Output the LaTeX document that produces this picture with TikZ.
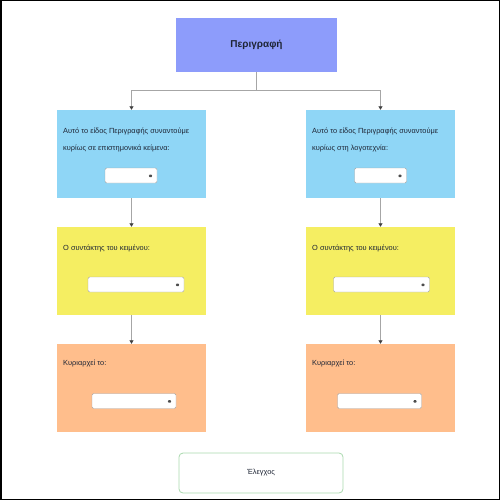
\documentclass[tikz,border=0pt]{standalone}
\usepackage{fontspec}
\setmainfont{Liberation Sans}
\usepackage{tikz}
\usetikzlibrary{arrows.meta, positioning, calc}

\definecolor{titleblue}{HTML}{8D9CFB}
\definecolor{skyblue}{HTML}{8FD6F6}
\definecolor{lemon}{HTML}{F5EE62}
\definecolor{peach}{HTML}{FFBE8C}
\definecolor{mint}{HTML}{A9D9AE}
\definecolor{ink}{HTML}{1E2535}

\begin{document}
\begin{tikzpicture}[x=1pt, y=-1pt,
        title/.style={rectangle, fill=titleblue, minimum width=161pt, minimum height=54pt, align=center, text=ink, font=\fontsize{10}{12}\selectfont\bfseries},
        panel/.style={rectangle, minimum width=149pt, minimum height=88pt},
        prompt/.style={anchor=north west, inner sep=0pt, align=left, text=ink, font=\fontsize{7.4}{17}\selectfont},
        dropdown/.style={rectangle, draw=black!35, fill=white, rounded corners=1.5pt, minimum height=15pt, inner sep=0pt,
            path picture={\fill[black!70] ([xshift=-9pt, yshift=-1.5pt]path picture bounding box.east) -- ++(5pt,0) -- ++(-2.5pt,3.5pt) -- cycle;}},
        button/.style={rectangle, draw=mint, thick, fill=white, rounded corners=4pt, minimum width=164pt, minimum height=40pt, font=\fontsize{7.4}{9}\selectfont, text=ink},
        conn/.style={draw=black!35, line width=1.1pt, -{Triangle[width=4pt, length=3.5pt, color=black!75]}}
    ]

        % frame
        \useasboundingbox (0,0) rectangle (500,500);
        \draw[line width=1.5pt] (0.75,0.75) rectangle (499.25,499.25);

        % Title
        \node[title] (title) at (256.5,45) {Περιγραφή};

        % Left column
        \node[panel, fill=skyblue] (kindL) at (131.5,154) {};
        \node[prompt] (kindLtxt) at (63,127.5) {Αυτό το είδος Περιγραφής συναντούμε\\κυρίως σε επιστημονικά κείμενα:};
        \node[dropdown, minimum width=52pt] (kindLdd) at (131,175.5) {};

        \node[panel, fill=lemon] (authL) at (131.5,271) {};
        \node[prompt] (authLtxt) at (63,245) {Ο συντάκτης του κειμένου:};
        \node[dropdown, minimum width=96pt] (authLdd) at (136,284.5) {};

        \node[panel, fill=peach] (ruleL) at (131.5,388) {};
        \node[prompt] (ruleLtxt) at (63,360) {Κυριαρχεί το:};
        \node[dropdown, minimum width=84pt] (ruleLdd) at (134,401) {};

        % Right column
        \node[panel, fill=skyblue] (kindR) at (380.5,154) {};
        \node[prompt] (kindRtxt) at (312,127.5) {Αυτό το είδος Περιγραφής συναντούμε\\κυρίως στη λογοτεχνία:};
        \node[dropdown, minimum width=52pt] (kindRdd) at (380.5,175.5) {};

        \node[panel, fill=lemon] (authR) at (380.5,271) {};
        \node[prompt] (authRtxt) at (312,245) {Ο συντάκτης του κειμένου:};
        \node[dropdown, minimum width=96pt] (authRdd) at (381.5,284.5) {};

        \node[panel, fill=peach] (ruleR) at (380.5,388) {};
        \node[prompt] (ruleRtxt) at (312,360) {Κυριαρχεί το:};
        \node[dropdown, minimum width=84pt] (ruleRdd) at (379.5,401) {};

        % Check button
        \node[button] (check) at (261,473) {Έλεγχος};

        % Connections
        \draw[conn] (title.south) -- ++(0,18) -| (kindL.north);
        \draw[conn] (title.south) -- ++(0,18) -| (kindR.north);

        \draw[conn] (kindL.south) -- (authL.north);
        \draw[conn] (authL.south) -- (ruleL.north);
        \draw[conn] (kindR.south) -- (authR.north);
        \draw[conn] (authR.south) -- (ruleR.north);

    \end{tikzpicture}
\end{document}
